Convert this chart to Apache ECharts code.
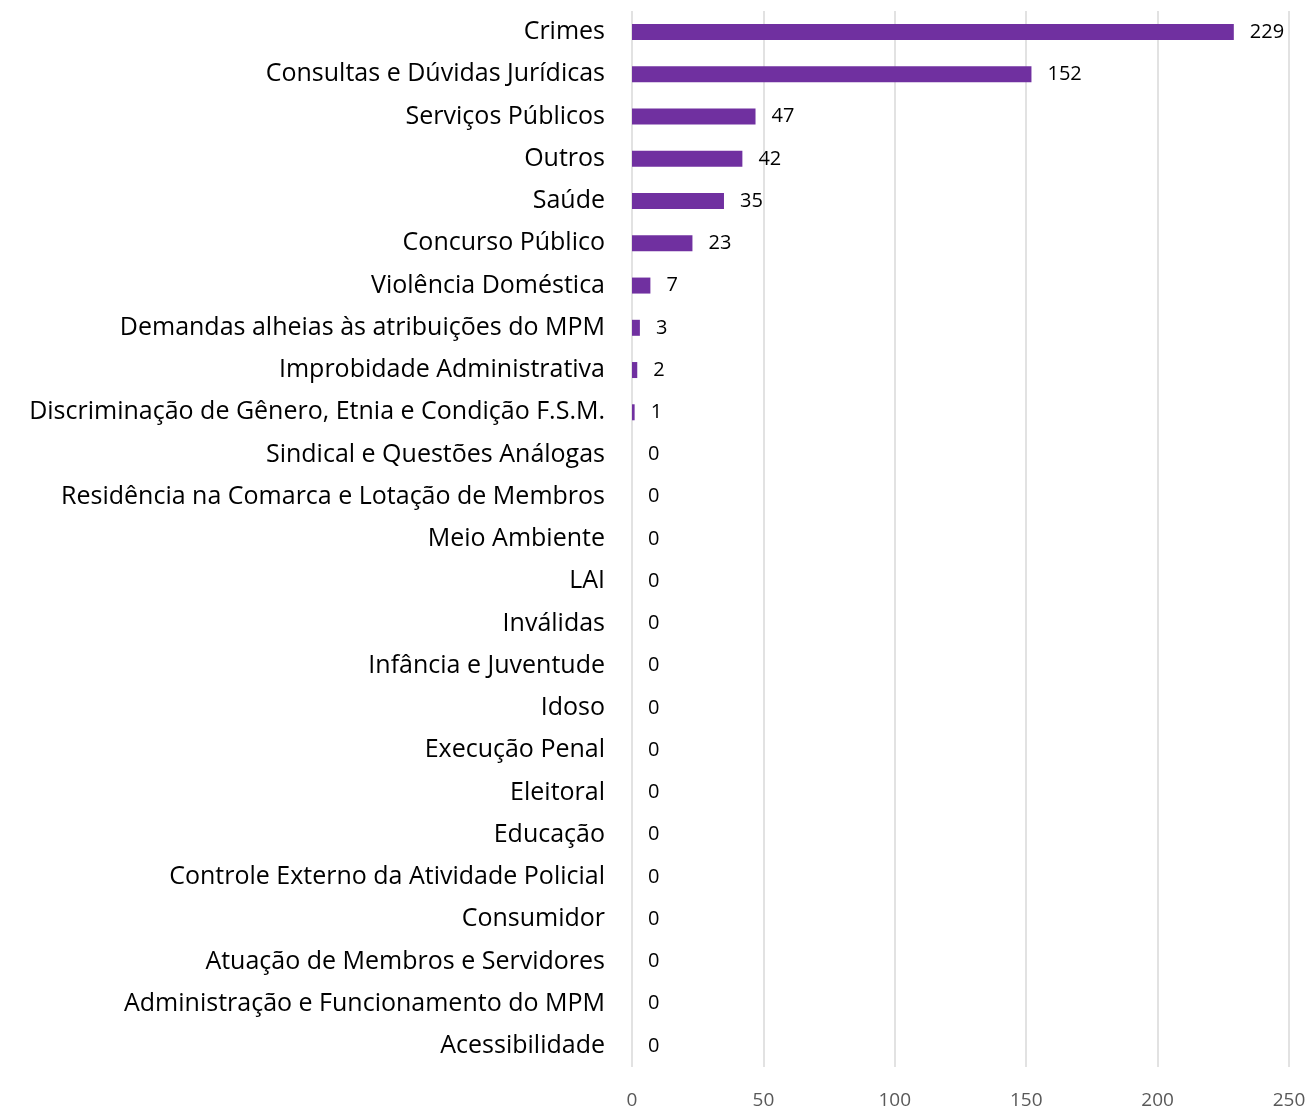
<!DOCTYPE html>
<html>
<head>
<meta charset="utf-8">
<script src="https://cdn.jsdelivr.net/npm/echarts@6/dist/echarts.min.js"></script>
<style>
  html, body { margin: 0; padding: 0; background: #fff; }
  #chart { width: 1310px; height: 1110px; }
</style>
</head>
<body>
<div id="chart"></div>
<script>
// categories, top to bottom
var categorias = [
    'Crimes',
    'Consultas e Dúvidas Jurídicas',
    'Serviços Públicos',
    'Outros',
    'Saúde',
    'Concurso Público',
    'Violência Doméstica',
    'Demandas alheias às atribuições do MPM',
    'Improbidade Administrativa',
    'Discriminação de Gênero, Etnia e Condição F.S.M.',
    'Sindical e Questões Análogas',
    'Residência na Comarca e Lotação de Membros',
    'Meio Ambiente',
    'LAI',
    'Inválidas',
    'Infância e Juventude',
    'Idoso',
    'Execução Penal',
    'Eleitoral',
    'Educação',
    'Controle Externo da Atividade Policial',
    'Consumidor',
    'Atuação de Membros e Servidores',
    'Administração e Funcionamento do MPM',
    'Acessibilidade'
];
var quantidades = [229, 152, 47, 42, 35, 23, 7, 3, 2, 1, 0, 0, 0, 0, 0, 0, 0, 0, 0, 0, 0, 0, 0, 0, 0];
var eixoMin = 0, eixoMax = 250, eixoPasso = 50;

var chart = echarts.init(document.getElementById('chart'));
chart.setOption({
    animation: false,
    textStyle: { fontFamily: '"Open Sans", sans-serif' },
    grid: { // posição do gráfico
        top: 11,
        bottom: 43,
        left: 632,
        right: 21
    },
    xAxis: {
        type: 'value',
        min: eixoMin,
        max: eixoMax,
        interval: eixoPasso,
        axisLine: { show: false },
        axisTick: { show: false },
        axisLabel: {
            color: '#595959',
            fontSize: 19,
            margin: 24
        },
        splitLine: {
            show: true,
            lineStyle: { color: '#d9d9d9', width: 1.5 }
        }
    },
    yAxis: {
        type: 'category',
        inverse: true,
        data: categorias,
        axisLine: { show: false },
        axisTick: { show: false },
        axisLabel: {
            color: '#000',
            fontSize: 25,
            margin: 27,
            interval: 0,
            padding: [4, 0, 0, 0]
        }
    },
    series: [{
        type: 'bar',
        data: quantidades,
        barWidth: 16,
        itemStyle: { color: '#7030A0' },
        label: {
            show: true,
            position: 'right',
            distance: 16,
            color: '#000',
            fontSize: 20,
            padding: [3, 0, 0, 0]
        }
    }]
});
</script>
</body>
</html>
